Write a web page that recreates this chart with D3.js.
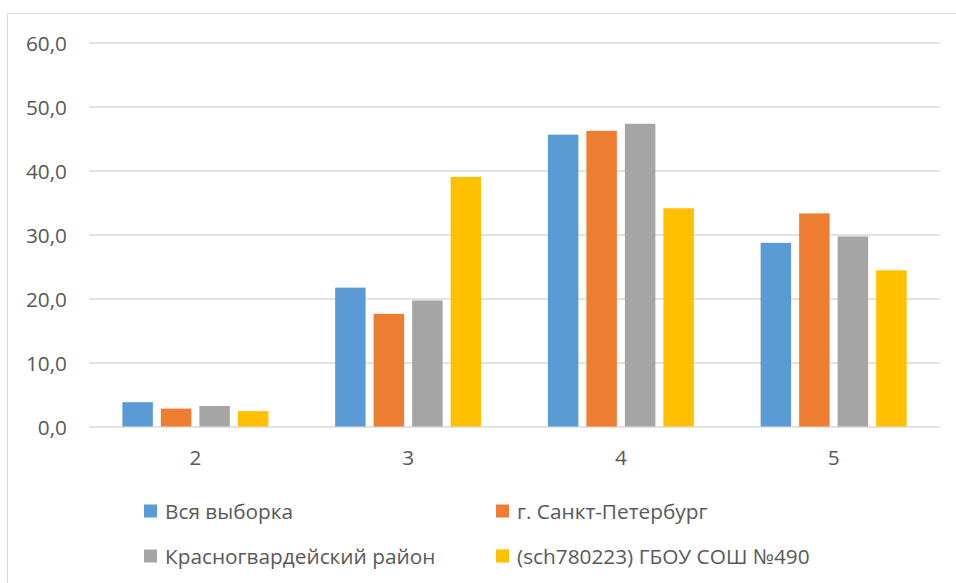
<!DOCTYPE html>
<html><head><meta charset="utf-8">
<script src="https://cdn.jsdelivr.net/npm/d3@7"></script>
<style>html,body{margin:0;padding:0;background:#fff;} svg{display:block;}</style>
</head><body>
<svg id="c" width="956" height="583"></svg>
<script>
const categories = ["2", "3", "4", "5"];
const seriesNames = ["Вся выборка", "г. Санкт-Петербург", "Красногвардейский район", "(sch780223) ГБОУ СОШ №490"];
const seriesColors = ["#5B9BD5", "#ED7D31", "#A5A5A5", "#FFC000"];
const valuesAll   = [3.8, 21.7, 45.6, 28.7];
const valuesSpb   = [2.8, 17.6, 46.2, 33.3];
const valuesKrasn = [3.2, 19.7, 47.3, 29.7];
const valuesSch   = [2.4, 39.0, 34.1, 24.4];
const yTicks = [0, 10, 20, 30, 40, 50, 60];
const seriesValues = [valuesAll, valuesSpb, valuesKrasn, valuesSch];

const svg = d3.select("#c");
const font = "'Open Sans', sans-serif";
const textColor = "#595959";
const fs = "20.8px";

svg.append("rect").attr("x", 7.5).attr("y", 13.5).attr("width", 980).attr("height", 620)
  .attr("fill", "#fff").attr("stroke", "#d9d9d9").attr("stroke-width", 1);

const plotL = 89, plotR = 940;
const y = d3.scaleLinear().domain([0, 60]).range([426.5, 42.5]);
const x0 = d3.scaleBand().domain(categories).range([plotL, plotR]).padding(0);
const groupW = 146;
const x1 = d3.scaleBand().domain(d3.range(seriesNames.length)).range([0, groupW]).paddingInner(0.208).paddingOuter(0);

// gridlines
const yAxis = d3.axisLeft(y).tickValues(yTicks).tickSize(-(plotR - plotL))
  .tickFormat(d => d3.format(".1f")(d).replace(".", ","));
const gy = svg.append("g").attr("transform", `translate(${plotL},0)`).call(yAxis);
gy.select(".domain").remove();
gy.selectAll(".tick line").attr("stroke", "#d9d9d9").attr("stroke-width", 1.5);
gy.selectAll(".tick text").attr("x", -22).attr("dy", "0.36em")
  .attr("fill", textColor).style("font-family", font).style("font-size", fs);

// bars
const data = [];
categories.forEach((c, ci) => seriesValues.forEach((vals, si) => data.push({c, si, v: vals[ci]})));
svg.append("g").selectAll("rect").data(data).join("rect")
  .attr("x", d => x0(d.c) + (x0.bandwidth() - groupW) / 2 + x1(d.si))
  .attr("width", x1.bandwidth())
  .attr("y", d => y(d.v))
  .attr("height", d => y(0) - y(d.v))
  .attr("fill", d => seriesColors[d.si]);

// x axis labels
const xAxis = d3.axisBottom(x0).tickSize(0).tickPadding(0);
const gx = svg.append("g").attr("transform", `translate(0,${y(0)})`).call(xAxis);
gx.select(".domain").remove();
gx.selectAll(".tick text").attr("y", 38.5).attr("dy", 0)
  .attr("fill", textColor).style("font-family", font).style("font-size", fs);

// legend
const legendPos = [[144, 511], [496, 511], [144, 556], [496, 556]];
const lg = svg.append("g").selectAll("g").data(seriesNames).join("g")
  .attr("transform", (d, i) => `translate(${legendPos[i][0]},${legendPos[i][1]})`);
lg.append("rect").attr("x", 0).attr("y", -6.5).attr("width", 13).attr("height", 13)
  .attr("fill", (d, i) => seriesColors[i]);
lg.append("text").attr("x", 21).attr("y", 0).attr("dy", "0.36em")
  .attr("fill", textColor).style("font-family", font).style("font-size", fs)
  .text(d => d);
</script>
</body></html>
